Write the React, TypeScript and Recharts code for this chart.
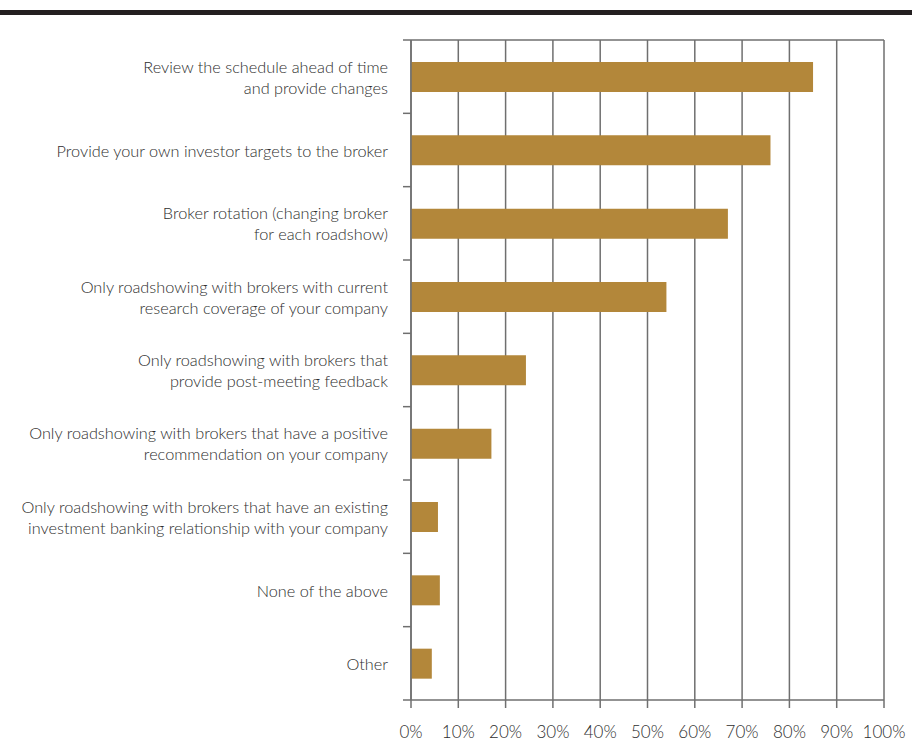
import { BarChart, Bar, XAxis, YAxis, CartesianGrid } from "recharts"

const categories = [
  "Review the schedule ahead of time\nand provide changes",
  "Provide your own investor targets to the broker",
  "Broker rotation (changing broker\nfor each roadshow)",
  "Only roadshowing with brokers with current\nresearch coverage of your company",
  "Only roadshowing with brokers that\nprovide post-meeting feedback",
  "Only roadshowing with brokers that have a positive\nrecommendation on your company",
  "Only roadshowing with brokers that have an existing\ninvestment banking relationship with your company",
  "None of the above",
  "Other",
]

const values = [85, 76, 67, 54, 24.3, 17, 5.7, 6.1, 4.4]

const xTicks = [0, 10, 20, 30, 40, 50, 60, 70, 80, 90, 100]

const data = categories.map((name, i) => ({ name, value: values[i] }))

const GRID = "#6f6f6f"
const BAND = 660 / categories.length

function CategoryTick(props: any) {
  const { y, payload, index } = props
  const lines: string[] = String(payload.value).split("\n")
  const lh = 21
  const start = y - ((lines.length - 1) * lh) / 2
  return (
    <g>
      <line x1={403} x2={411} y1={y - BAND / 2} y2={y - BAND / 2} stroke={GRID} strokeWidth={1.5} />
      {index === categories.length - 1 && (
        <line x1={403} x2={411} y1={y + BAND / 2} y2={y + BAND / 2} stroke={GRID} strokeWidth={1.5} />
      )}
      <text textAnchor="end" fill="#2e2e2e" fontSize={16.3} fontWeight={300} fontFamily="Lato, sans-serif">
        {lines.map((l, i) => (
          <tspan key={i} x={388} y={start + i * lh} dominantBaseline="central">
            {l}
          </tspan>
        ))}
      </text>
    </g>
  )
}

export default function App() {
  return (
    <div style={{ position: "absolute", left: 0, top: 0, width: 912, height: 742, background: "#fff" }}>
      <div style={{ position: "absolute", left: 0, top: 10, width: 912, height: 5, background: "#231f20" }} />
      <BarChart
        width={912}
        height={742}
        data={data}
        layout="vertical"
        margin={{ top: 40, right: 28, bottom: 0, left: 0 }}
      >
        <CartesianGrid vertical horizontal horizontalPoints={[40]} stroke={GRID} strokeWidth={1.5} strokeDasharray="" />
        <XAxis
          type="number"
          domain={[0, 100]}
          ticks={xTicks}
          tickFormatter={(v) => `${v}%`}
          height={42}
          tickSize={8}
          tickMargin={18}
          stroke={GRID}
          strokeWidth={1.5}
          tick={{ fill: "#2e2e2e", fontSize: 17, fontWeight: 300, fontFamily: "Lato, sans-serif" }}
          interval={0}
        />
        <YAxis
          type="category"
          dataKey="name"
          width={411}
          tickLine={false}
          stroke={GRID}
          strokeWidth={1.5}
          tick={<CategoryTick />}
          interval={0}
        />
        <Bar dataKey="value" fill="#b3873a" barSize={30} isAnimationActive={false} />
      </BarChart>
    </div>
  )
}
